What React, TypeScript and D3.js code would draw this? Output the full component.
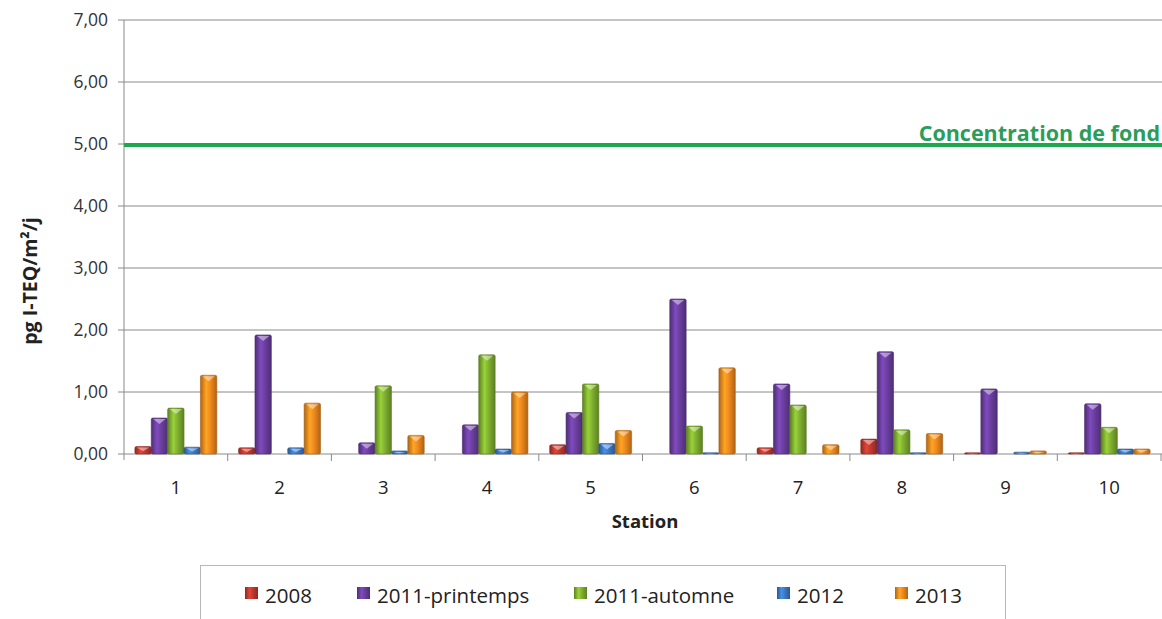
import React from "react";
import * as d3 from "d3";

const stations = ["1", "2", "3", "4", "5", "6", "7", "8", "9", "10"];
const seriesNames = ["2008", "2011-printemps", "2011-automne", "2012", "2013"];
const v2008 = [0.12, 0.1, 0, 0, 0.15, 0, 0.1, 0.24, 0.02, 0.02];
const vPrintemps = [0.58, 1.92, 0.18, 0.47, 0.67, 2.5, 1.13, 1.65, 1.05, 0.81];
const vAutomne = [0.74, 0, 1.1, 1.6, 1.13, 0.45, 0.79, 0.39, 0, 0.43];
const v2012 = [0.11, 0.1, 0.05, 0.08, 0.17, 0.02, 0, 0.02, 0.03, 0.08];
const v2013 = [1.27, 0.82, 0.3, 1.0, 0.38, 1.39, 0.15, 0.33, 0.05, 0.08];
const yTicks = [0, 1, 2, 3, 4, 5, 6, 7];
const background = 5;
const backgroundLabel = "Concentration de fond";
const colors = ["#c0392f", "#6b3fa0", "#80b030", "#3d78c4", "#f08a1e"];

const seriesValues = [v2008, vPrintemps, vAutomne, v2012, v2013];

const W = 1162;
const H = 619;
const left = 124;
const right = 1161;
const top = 20;
const bottom = 454;
const font = "'Open Sans', 'Noto Sans', sans-serif";
const legendX = [265, 377, 594, 797, 915];

export default function App() {
  const y = d3.scaleLinear().domain([0, 7]).range([bottom, top]);
  const x0 = d3
    .scaleBand<string>()
    .domain(stations)
    .range([left, right])
    .paddingInner(0.21)
    .paddingOuter(0.105);
  const x1 = d3
    .scaleBand<string>()
    .domain(seriesNames)
    .range([0, x0.bandwidth()]);
  const step = x0.step();
  const fmt = (v: number) => d3.format(".2f")(v).replace(".", ",");

  return (
    <svg
      width={W}
      height={H}
      style={{ position: "absolute", left: 0, top: 0, background: "#fff" }}
    >
      <defs>
        {colors.map((c, i) => {
          const dark = d3.color(c)!.darker(0.9).formatHex();
          const light = d3.color(c)!.brighter(0.5).formatHex();
          return (
            <linearGradient key={i} id={`grad${i}`} x1="0" x2="1" y1="0" y2="0">
              <stop offset="0%" stopColor={dark} />
              <stop offset="35%" stopColor={light} />
              <stop offset="60%" stopColor={c} />
              <stop offset="100%" stopColor={dark} />
            </linearGradient>
          );
        })}
      </defs>

      {/* horizontal gridlines with value labels */}
      {yTicks.map((t) => (
        <g key={t}>
          <line x1={left} x2={W} y1={y(t)} y2={y(t)} stroke="#8a8a8a" strokeWidth={1} />
          <line x1={left - 6} x2={left} y1={y(t)} y2={y(t)} stroke="#8a8a8a" strokeWidth={1} />
          <text
            x={108}
            y={y(t)}
            dy="0.36em"
            textAnchor="end"
            fontFamily={font}
            fontSize={17.5}
            fill="#333"
          >
            {fmt(t)}
          </text>
        </g>
      ))}

      {/* axes */}
      <line x1={left} x2={left} y1={top} y2={bottom + 6} stroke="#8a8a8a" strokeWidth={1} />
      {stations.map((s, i) => (
        <line
          key={s}
          x1={left + step * (i + 1)}
          x2={left + step * (i + 1)}
          y1={bottom}
          y2={bottom + 7}
          stroke="#8a8a8a"
          strokeWidth={1}
        />
      ))}

      {/* bars */}
      {stations.map((s, i) => (
        <g key={s} transform={`translate(${x0(s)},0)`}>
          {seriesNames.map((n, j) => {
            const v = seriesValues[j][i];
            if (v <= 0) return null;
            const bx = x1(n)!;
            const bw = x1.bandwidth();
            const by = y(v);
            const bh = bottom - by;
            const cap = Math.min(5, bh / 2);
            return (
              <g key={n}>
                <rect
                  x={bx}
                  y={by}
                  width={bw}
                  height={bh}
                  fill={`url(#grad${j})`}
                  stroke={d3.color(colors[j])!.darker(1).formatHex()}
                  strokeWidth={0.6}
                  rx={1.5}
                />
                <path
                  d={`M${bx + 2},${by + 1}L${bx + bw - 2},${by + 1}L${bx + bw / 2},${by + 1 + cap}Z`}
                  fill="#fff"
                  opacity={0.45}
                />
              </g>
            );
          })}
        </g>
      ))}

      {/* background concentration line */}
      <line
        x1={left}
        x2={W}
        y1={y(background) + 1}
        y2={y(background) + 1}
        stroke="#1fa750"
        strokeWidth={4}
      />
      <text
        x={1160}
        y={y(background) - 3.5}
        textAnchor="end"
        fontFamily={font}
        fontSize={21.5}
        fontWeight="bold"
        fill="#2a9d5a"
      >
        {backgroundLabel}
      </text>

      {/* category labels */}
      {stations.map((s) => (
        <text
          key={s}
          x={x0(s)! + x0.bandwidth() / 2}
          y={494}
          textAnchor="middle"
          fontFamily={font}
          fontSize={18.5}
          fill="#222"
        >
          {s}
        </text>
      ))}
      <text
        x={645}
        y={528}
        textAnchor="middle"
        fontFamily={font}
        fontSize={18.5}
        fontWeight="bold"
        fill="#222"
      >
        Station
      </text>
      <text
        transform={`translate(37,281) rotate(-90)`}
        textAnchor="middle"
        fontFamily={font}
        fontSize={19.5}
        fontWeight="bold"
        fill="#222"
      >
        pg I-TEQ/m²/j
      </text>

      {/* legend */}
      <rect x={200.5} y={565.5} width={805} height={80} fill="#fff" stroke="#b8b8b8" strokeWidth={1} />
      {seriesNames.map((n, j) => (
        <g key={n}>
          <rect x={legendX[j] - 20} y={587} width={13} height={12} fill={`url(#grad${j})`} />
          <text x={legendX[j]} y={603} fontFamily={font} fontSize={20.5} fill="#222">
            {n}
          </text>
        </g>
      ))}
    </svg>
  );
}
